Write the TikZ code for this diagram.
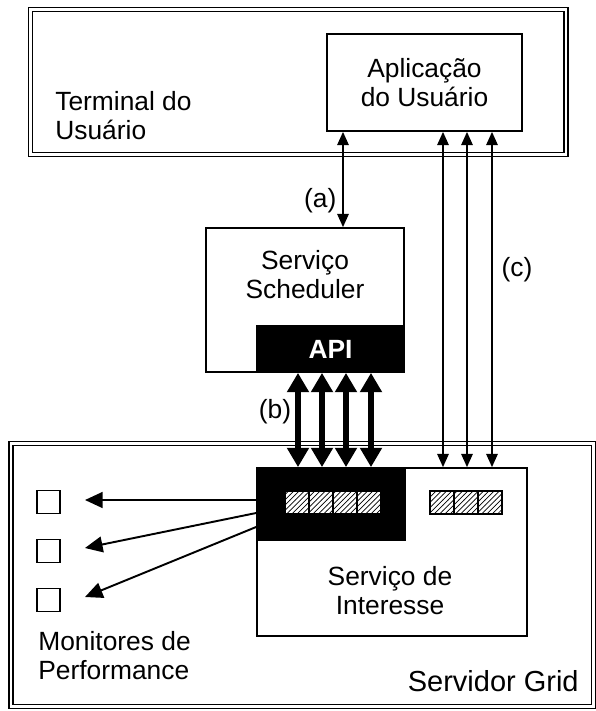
\documentclass[tikz,border=0pt]{standalone}
\usepackage{fontspec}
\setmainfont{Liberation Sans}
\usetikzlibrary{arrows.meta,patterns}

\begin{document}
\begin{tikzpicture}[font=\fontsize{15}{16.5}\selectfont,
	caixaDupla/.style={draw, double, line width=0.9pt, double distance=1.6pt},
	caixa/.style={draw, line width=1pt},
	celula/.style={draw, line width=0.8pt, preaction={fill=white}, pattern=north east lines, minimum width=0.48cm, minimum height=0.46cm, inner sep=0pt},
	monitor/.style={draw, line width=0.9pt, minimum width=0.46cm, minimum height=0.46cm, inner sep=0pt},
	setaFina/.style={line width=0.9pt, {Triangle[width=6.5pt,length=7.5pt]}-{Triangle[width=6.5pt,length=7.5pt]}},
	setaGrossa/.style={line width=3.4pt, {Triangle[width=12pt,length=11pt]}-{Triangle[width=12pt,length=11pt]}},
	setaMonitor/.style={line width=1.1pt, -{Triangle[width=9pt,length=10pt]}}]
		
		\useasboundingbox (0,0) rectangle (11.92,-14.22);
		
		%Desenho os nós do terminal
		\node (terminal) at (5.965,-1.64) [caixaDupla, minimum width=10.71cm, minimum height=2.9cm]{};
		
		\node (aplicacao) at (8.49,-1.65) [caixa, minimum width=3.9cm, minimum height=1.94cm, align=center]{Aplicação\\do Usuário};
		
		\node (textoTerminal) at (1.1,-2.32) [anchor=west, inner sep=0pt, align=left]{Terminal do\\Usuário};
		
		
		%Desenho o serviço scheduler
		\node (scheduler) at (6.1,-6.0) [caixa, minimum width=3.96cm, minimum height=2.88cm]{};
		
		\node (textoScheduler) at (6.1,-5.5) [align=center]{Serviço\\Scheduler};
		
		\node (api) at (6.61,-6.98) [caixa, fill=black, text=white, font=\fontsize{15}{16.5}\selectfont\bfseries, minimum width=2.94cm, minimum height=0.92cm]{API};
		
		
		%Desenho os nós do servidor
		\node (servidor) at (6.045,-11.5) [caixaDupla, minimum width=11.65cm, minimum height=5.26cm]{};
		
		\node (servico) at (7.84,-11.04) [caixa, minimum width=5.4cm, minimum height=3.36cm]{};
		
		\node (blocoPreto) at (6.62,-10.08) [caixa, fill=black, minimum width=2.96cm, minimum height=1.44cm]{};
		
		\node (textoServico) at (7.8,-11.82) [align=center]{Serviço de\\Interesse};
		
		\node (textoServidor) at (11.58,-13.62) [anchor=east, inner sep=0pt, font=\fontsize{16.5}{18}\selectfont]{Servidor Grid};
		
		%Células hachuradas
		\node (celula1) at (5.94,-10.05) [celula]{};
		\node (celula2) at (6.42,-10.05) [celula]{};
		\node (celula3) at (6.90,-10.05) [celula]{};
		\node (celula4) at (7.38,-10.05) [celula]{};
		
		\node (celula5) at (8.84,-10.05) [celula]{};
		\node (celula6) at (9.32,-10.05) [celula]{};
		\node (celula7) at (9.80,-10.05) [celula]{};
		
		%Desenho os monitores
		\node (monitor1) at (0.97,-10.04) [monitor]{};
		\node (monitor2) at (0.97,-11.02) [monitor]{};
		\node (monitor3) at (0.97,-12.00) [monitor]{};
		
		\node (textoMonitores) at (0.76,-13.12) [anchor=west, inner sep=0pt, align=left]{Monitores de\\Performance};
		
		
		%Desenho as ligações
		\coordinate (colunaA) at (6.86,0);
		\coordinate (colunaB1) at (5.96,0);
		\coordinate (colunaB2) at (6.44,0);
		\coordinate (colunaB3) at (6.92,0);
		\coordinate (colunaB4) at (7.42,0);
		\coordinate (colunaC1) at (8.86,0);
		\coordinate (colunaC2) at (9.34,0);
		\coordinate (colunaC3) at (9.84,0);
		
		\draw[setaFina] (aplicacao.south -| colunaA) -- (scheduler.north -| colunaA) node[pos=0.72, left=0pt]{(a)};
		
		\draw[setaFina] (aplicacao.south -| colunaC1) -- (servico.north -| colunaC1);
		\draw[setaFina] (aplicacao.south -| colunaC2) -- (servico.north -| colunaC2);
		\draw[setaFina] (aplicacao.south -| colunaC3) -- (servico.north -| colunaC3);
		
		\node (rotuloC) at (10.34,-5.4) {(c)};
		
		\draw[setaGrossa] (api.south -| colunaB1) -- (blocoPreto.north -| colunaB1);
		\draw[setaGrossa] (api.south -| colunaB2) -- (blocoPreto.north -| colunaB2);
		\draw[setaGrossa] (api.south -| colunaB3) -- (blocoPreto.north -| colunaB3);
		\draw[setaGrossa] (api.south -| colunaB4) -- (blocoPreto.north -| colunaB4);
		
		\node (rotuloB) at (5.5,-8.24) {(b)};
		
		\coordinate (ponta1) at (1.7,-10.0);
		\coordinate (ponta2) at (1.7,-10.96);
		\coordinate (ponta3) at (1.7,-11.94);
		
		\draw[setaMonitor] ([yshift=0.08cm]blocoPreto.west) -- (ponta1);
		\draw[setaMonitor] ([yshift=-0.18cm]blocoPreto.west) -- (ponta2);
		\draw[setaMonitor] ([yshift=-0.46cm]blocoPreto.west) -- (ponta3);
		
\end{tikzpicture}
\end{document}
